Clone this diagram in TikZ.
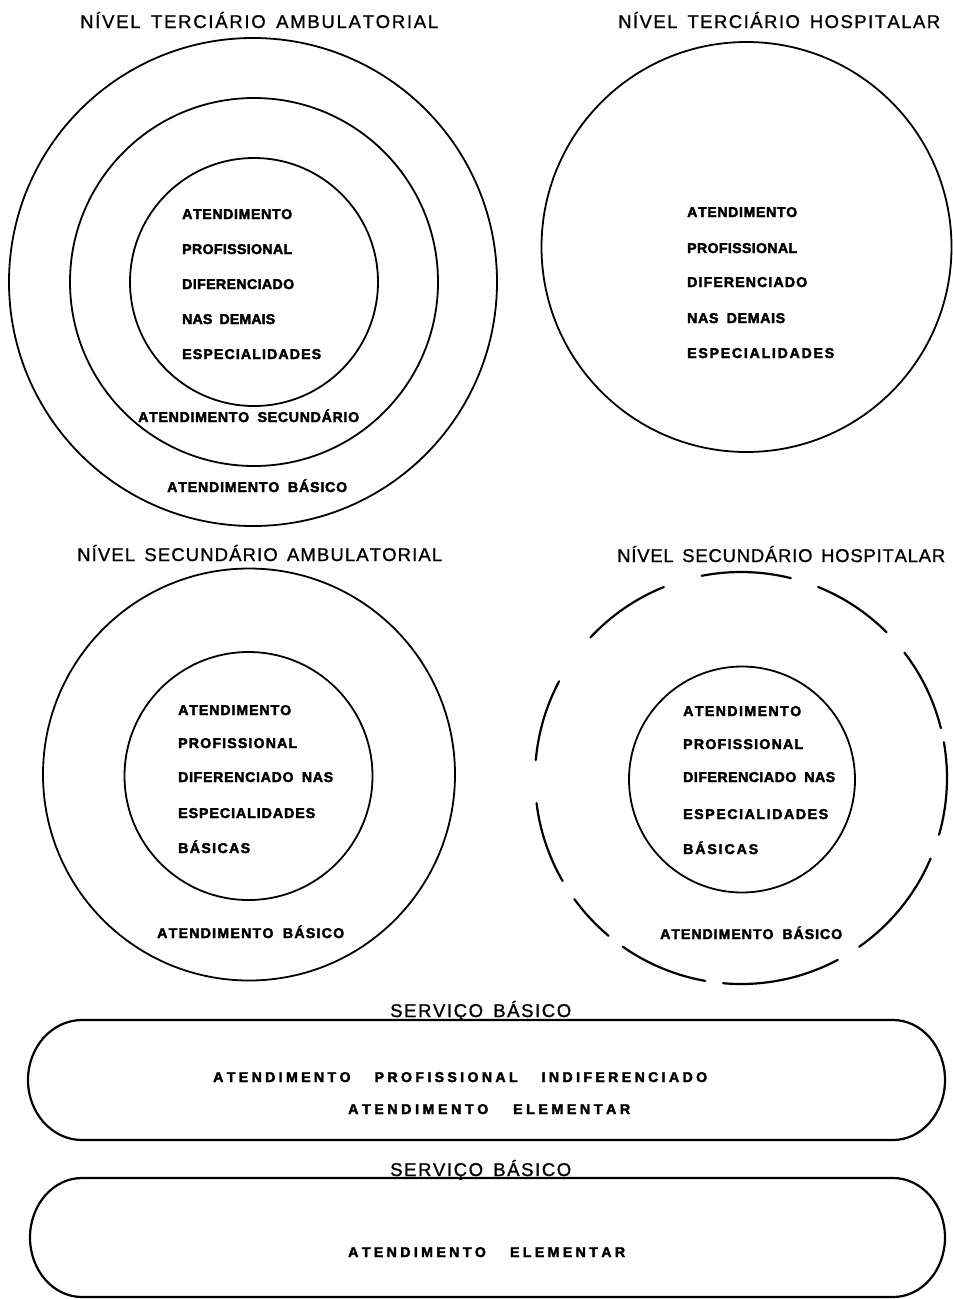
\documentclass[tikz,border=0pt]{standalone}
\usepackage{fontspec}
\setmainfont{Liberation Sans}
\newfontfamily\heavyf[FakeBold=2.5]{Liberation Sans Bold}
\newfontfamily\titlef[FakeBold=1]{Liberation Sans}
\newcommand\sploop[1]{\ifx#1\relax\else#1\hfil\expandafter\sploop\fi}
\newcommand\spread[2]{\hbox to #1pt{\sploop#2\relax\unskip}}
\newcommand\wgap{\hskip 7pt}
\tikzset{
  circ/.style={line width=1.8pt},
  dsh/.style={line width=2.2pt, line cap=round},
  stad/.style={line width=2.2pt},
  ttl/.style={anchor=base west, inner sep=0pt, font={\titlef\fontsize{18.5}{18.5}\selectfont}},
  bod/.style={anchor=base west, inner sep=0pt, font={\heavyf\fontsize{14.2}{14.2}\selectfont}},
}
\begin{document}
\begin{tikzpicture}[x=1pt,y=-1pt]
\useasboundingbox (0,0) rectangle (953,1299);
\fill[white] (0,0) rectangle (953,1299);

% ---- Top left: tertiary ambulatory
\node[ttl] (tta) at (80,28) {\spread{358}{NÍVEL\wgap TERCIÁRIO\wgap AMBULATORIAL}};
\draw[circ] (253,282) circle[radius=244];
\draw[circ] (254,282) circle[radius=184];
\draw[circ] (254,282) circle[radius=124];
\node[bod] (a1) at (182,219) {\spread{110}{ATENDIMENTO}};
\node[bod] (a2) at (182,254) {\spread{110}{PROFISSIONAL}};
\node[bod] (a3) at (182,289) {\spread{112}{DIFERENCIADO}};
\node[bod] (a4) at (182,324) {\spread{93}{NAS\wgap DEMAIS}};
\node[bod] (a5) at (182,359) {\spread{139}{ESPECIALIDADES}};
\node[bod] (a6) at (138,422) {\spread{221}{ATENDIMENTO\wgap SECUNDÁRIO}};
\node[bod] (a7) at (167,492) {\spread{180}{ATENDIMENTO\wgap BÁSICO}};

% ---- Top right: tertiary hospital
\node[ttl] (tth) at (618,28) {\spread{322}{NÍVEL\wgap TERCIÁRIO\wgap HOSPITALAR}};
\draw[circ] (746.5,247) circle[radius=205];
\node[bod] (b1) at (687,217) {\spread{110}{ATENDIMENTO}};
\node[bod] (b2) at (687,253) {\spread{110}{PROFISSIONAL}};
\node[bod] (b3) at (687,287) {\spread{120}{DIFERENCIADO}};
\node[bod] (b4) at (687,323) {\spread{98}{NAS\wgap DEMAIS}};
\node[bod] (b5) at (687,358) {\spread{147}{ESPECIALIDADES}};

% ---- Middle left: secondary ambulatory
\node[ttl] (tsa) at (77,561) {\spread{365}{NÍVEL\wgap SECUNDÁRIO\wgap AMBULATORIAL}};
\draw[circ] (249,774.5) circle[radius=206];
\draw[circ] (248.5,776) circle[radius=124];
\node[bod] (c1) at (178,715) {\spread{113}{ATENDIMENTO}};
\node[bod] (c2) at (178,748) {\spread{119}{PROFISSIONAL}};
\node[bod] (c3) at (178,782) {\spread{155}{DIFERENCIADO\wgap NAS}};
\node[bod] (c4) at (178,818) {\spread{137}{ESPECIALIDADES}};
\node[bod] (c5) at (178,853) {\spread{72}{BÁSICAS}};
\node[bod] (c6) at (157,938) {\spread{187}{ATENDIMENTO\wgap BÁSICO}};

% ---- Middle right: secondary hospital
\node[ttl] (tsh) at (617,562) {\spread{328}{NÍVEL\wgap SECUNDÁRIO\wgap HOSPITALAR}};
\foreach \a/\b in {-76/-101, -45/-68, -14/-37.5, 16/-10, 55/23, 95/62, 125/100, 144/130, 173/150, -152/-175, -112/-137}
  \draw[dsh] (741,778) ++(\a:206) arc[start angle=\a, end angle=\b, radius=206];
\draw[circ] (742,779.5) circle[radius=113];
\node[bod] (d1) at (683,716) {\spread{118}{ATENDIMENTO}};
\node[bod] (d2) at (683,749) {\spread{120}{PROFISSIONAL}};
\node[bod] (d3) at (683,782) {\spread{152}{DIFERENCIADO\wgap NAS}};
\node[bod] (d4) at (683,819) {\spread{145}{ESPECIALIDADES}};
\node[bod] (d5) at (683,854) {\spread{75}{BÁSICAS}};
\node[bod] (d6) at (660,939) {\spread{182}{ATENDIMENTO\wgap BÁSICO}};

% ---- Basic service 1
\node[ttl] (sb1) at (390,1017) {\spread{181}{SERVIÇO\wgap BÁSICO}};
\draw[stad] (82,1020) -- (893,1020) arc[start angle=-90, end angle=90, x radius=52, y radius=60]
  -- (82,1140) arc[start angle=90, end angle=270, x radius=54, y radius=60] -- cycle;
\node[bod] (e1) at (213,1082) {\spread{494}{ATENDIMENTO\wgap\wgap PROFISSIONAL\wgap\wgap INDIFERENCIADO}};
\node[bod] (e2) at (348,1114) {\spread{282}{ATENDIMENTO\wgap\wgap ELEMENTAR}};

% ---- Basic service 2
\node[ttl] (sb2) at (390,1176) {\spread{181}{SERVIÇO\wgap BÁSICO}};
\draw[stad] (82,1178) -- (893,1178) arc[start angle=-90, end angle=90, x radius=52, y radius=59.5]
  -- (82,1297) arc[start angle=90, end angle=270, x radius=52, y radius=59.5] -- cycle;
\node[bod] (f1) at (348,1257) {\spread{277}{ATENDIMENTO\wgap\wgap ELEMENTAR}};
\end{tikzpicture}
\end{document}
